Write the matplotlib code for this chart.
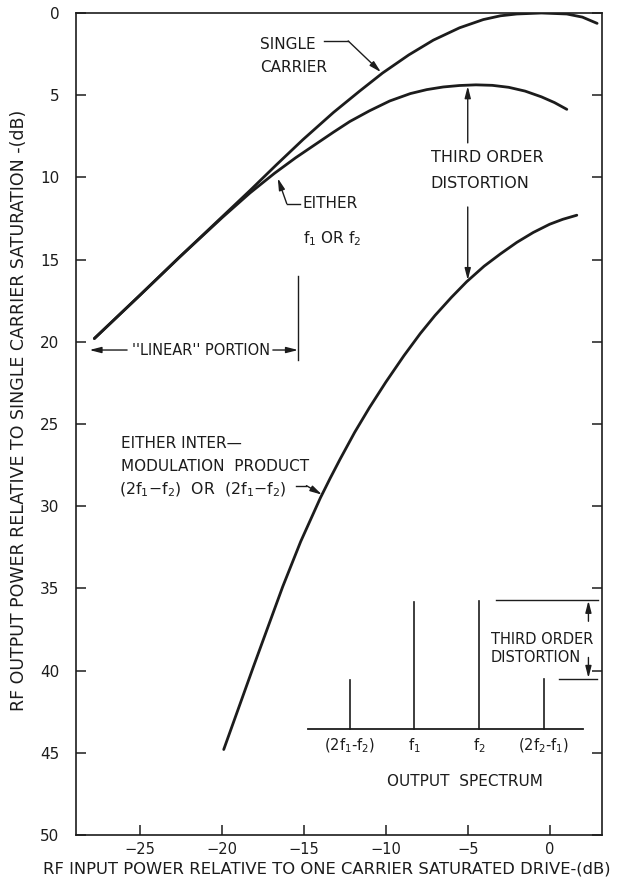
import matplotlib
matplotlib.use("Agg")
import matplotlib.pyplot as plt

# ---------------- data ----------------
sc_x = [-27.8, -25.0, -22.6, -20.0, -18.3, -16.7, -15.06, -13.2, -11.6, -10.2,
        -8.6, -7.1, -5.5, -4.05, -3.0, -2.0, -0.5, 1.05, 2.0, 2.9]
sc_y = [19.8, 17.15, 14.85, 12.4, 10.8, 9.25, 7.7, 6.05, 4.75, 3.65,
        2.55, 1.65, 0.9, 0.4, 0.17, 0.06, 0.0, 0.06, 0.25, 0.63]

ff_x = [-27.8, -25.0, -22.6, -20.0, -18.3, -16.8, -15.5, -14.24, -13.2, -12.2,
        -11.0, -9.76, -8.5, -7.5, -6.5, -5.5, -4.5, -3.5, -2.5, -1.5,
        -0.5, 0.3, 1.05]
ff_y = [19.8, 17.15, 14.85, 12.45, 10.95, 9.75, 8.8, 7.95, 7.25, 6.6,
        5.95, 5.35, 4.9, 4.66, 4.5, 4.41, 4.37, 4.4, 4.52, 4.75,
        5.1, 5.45, 5.86]

im_x = [-19.9, -18.1, -17.2, -16.3, -15.2, -14.0, -13.4, -12.8, -11.9, -11.0,
        -10.0, -8.9, -7.9, -7.0, -6.0, -5.07, -4.0, -3.0, -2.0, -1.0,
        0.0, 0.8, 1.66]
im_y = [44.8, 39.8, 37.35, 34.9, 32.15, 29.5, 28.3, 27.15, 25.5, 24.0,
        22.45, 20.85, 19.5, 18.4, 17.3, 16.35, 15.4, 14.65, 13.95, 13.35,
        12.85, 12.55, 12.3]

# output spectrum inset (schematic)
spec_x = [-12.2, -8.27, -4.3, -0.34]
spec_top = [40.6, 35.8, 35.75, 40.5]
spec_base = 43.55
spec_labels = [r"(2f$_1$-f$_2$)", r"f$_1$", r"f$_2$", r"(2f$_2$-f$_1$)"]

x_ticks = [-25, -20, -15, -10, -5, 0]
x_tick_labels = ["\u221225", "\u221220", "\u221215", "\u221210", "\u22125", "0"]
y_ticks = [0, 5, 10, 15, 20, 25, 30, 35, 40, 45, 50]

# ---------------- figure ----------------
plt.rcParams['font.family'] = ['DejaVu Sans']
plt.rcParams['mathtext.fontset'] = 'dejavusans'
INK = '#1c1c1c'

fig = plt.figure(figsize=(6.26, 8.80), dpi=100)
ax = fig.add_axes([76 / 626, 1 - 835 / 880, (601.7 - 76) / 626, (835 - 13) / 880])
ax.set_xlim(-28.92, 3.18)
ax.set_ylim(50, 0)

for s in ax.spines.values():
    s.set_linewidth(1.2)
    s.set_color(INK)

ax.set_xticks(x_ticks)
ax.set_xticklabels(x_tick_labels)
ax.set_yticks(y_ticks)
ax.tick_params(axis='x', direction='in', length=7, width=1.1, pad=5,
               labelsize=10.5, colors=INK, top=False)
ax.tick_params(axis='y', direction='in', length=7, width=1.1, pad=12,
               labelsize=11, colors=INK, right=True)

ax.set_xlabel("RF INPUT POWER RELATIVE TO ONE CARRIER SATURATED DRIVE-(dB)",
              fontsize=11.8, color=INK)
ax.xaxis.set_label_coords(0.478, -0.0415)
ax.xaxis.label.set_va('center')
ax.set_ylabel("RF OUTPUT POWER RELATIVE TO SINGLE CARRIER SATURATION -(dB)",
              fontsize=12.5, color=INK)
ax.yaxis.set_label_coords(-0.108, 0.517)
ax.yaxis.label.set_va('center')

# ---------------- curves ----------------
for xs, ys in ((sc_x, sc_y), (ff_x, ff_y), (im_x, im_y)):
    ax.plot(xs, ys, color=INK, lw=2.0, solid_capstyle='round', solid_joinstyle='round')

TXT = dict(color=INK, fontsize=11)
AP = dict(arrowstyle='-|>,head_length=0.7,head_width=0.18', lw=1.0, color=INK,
          shrinkA=0, shrinkB=0)

# SINGLE CARRIER
ax.text(-17.7, 1.9, "SINGLE", ha='left', va='center', **TXT)
ax.text(-17.7, 3.3, "CARRIER", ha='left', va='center', **TXT)
ax.plot([-13.75, -12.3], [1.7, 1.7], color=INK, lw=1.0)
ax.annotate('', xy=(-10.3, 3.6), xytext=(-12.3, 1.7), arrowprops=AP)

# EITHER f1 OR f2
ax.text(-15.06, 11.6, "EITHER", ha='left', va='center', **TXT)
ax.text(-15.06, 13.7, r"f$_1$ OR f$_2$", ha='left', va='center', **TXT)
ax.plot([-15.25, -16.05], [11.6, 11.6], color=INK, lw=1.0)
ax.annotate('', xy=(-16.6, 10.05), xytext=(-16.05, 11.6), arrowprops=AP)

# THIRD ORDER DISTORTION (main)
ax.text(-7.26, 8.8, "THIRD ORDER", ha='left', va='center', fontsize=11.5, color=INK)
ax.text(-7.26, 10.4, "DISTORTION", ha='left', va='center', fontsize=11.5, color=INK)
ax.annotate('', xy=(-5.0, 4.45), xytext=(-5.0, 7.9), arrowprops=AP)
ax.annotate('', xy=(-5.0, 16.25), xytext=(-5.0, 11.8), arrowprops=AP)

# LINEAR PORTION
ax.text(-21.3, 20.5, "''LINEAR'' PORTION", ha='center', va='center', fontsize=10.5, color=INK)
ax.annotate('', xy=(-28.1, 20.5), xytext=(-25.8, 20.5), arrowprops=AP)
ax.annotate('', xy=(-15.36, 20.5), xytext=(-16.9, 20.5), arrowprops=AP)
ax.plot([-15.36, -15.36], [16.0, 21.1], color=INK, lw=1.0)

# Intermodulation product label
ax.text(-26.2, 26.2, "EITHER INTER\u2014", ha='left', va='center', **TXT)
ax.text(-26.2, 27.6, "MODULATION  PRODUCT", ha='left', va='center', **TXT)
ax.text(-26.3, 29.0, r"(2f$_1$$-$f$_2$)  OR  (2f$_1$$-$f$_2$)", ha='left', va='center',
        color=INK, fontsize=11.3)
ax.plot([-15.5, -14.85], [28.75, 28.75], color=INK, lw=1.0)
ax.annotate('', xy=(-13.9, 29.3), xytext=(-14.85, 28.75), arrowprops=AP)

# ---------------- output spectrum inset ----------------
ax.plot([-14.75, 2.06], [spec_base, spec_base], color=INK, lw=1.3)
for xs, yt in zip(spec_x, spec_top):
    ax.plot([xs, xs], [spec_base, yt], color=INK, lw=1.2)
for xs, lab in zip(spec_x, spec_labels):
    ax.text(xs, 44.55, lab, ha='center', va='center', fontsize=10.5, color=INK)
ax.text(-5.2, 46.75, "OUTPUT  SPECTRUM", ha='center', va='center', fontsize=11, color=INK)

ax.plot([-3.28, 2.98], [35.7, 35.7], color=INK, lw=1.0)
ax.plot([0.6, 2.9], [40.5, 40.5], color=INK, lw=1.0)
ax.annotate('', xy=(2.37, 35.75), xytext=(2.37, 37.0), arrowprops=AP)
ax.annotate('', xy=(2.37, 40.45), xytext=(2.37, 39.2), arrowprops=AP)
ax.text(-3.6, 38.1, "THIRD ORDER", ha='left', va='center', fontsize=10.5, color=INK)
ax.text(-3.6, 39.2, "DISTORTION", ha='left', va='center', fontsize=10.5, color=INK)

fig.savefig("out.png", dpi=100, facecolor='white')
